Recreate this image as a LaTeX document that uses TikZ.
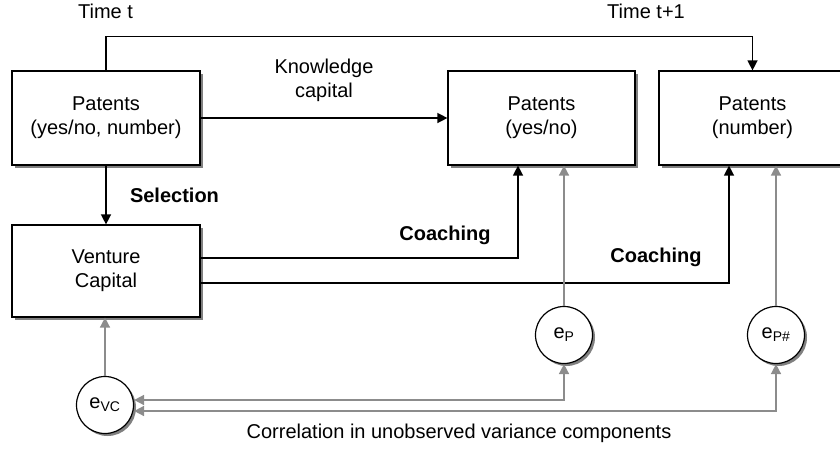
\documentclass[tikz,border=0pt]{standalone}
\usepackage{fontspec}
\setmainfont{Liberation Sans}
\usetikzlibrary{positioning, arrows.meta, shadows}
\definecolor{errgray}{RGB}{140,140,140}
\tikzset{
>={Triangle[length=10pt, width=10pt]}, % filled triangle heads
every node/.style={font=\fontsize{20}{24}\selectfont}, % Arial-like text
box/.style={draw, line width=1.2pt, fill=white, align=center, minimum width=188pt, minimum height=94pt,
    drop shadow={shadow xshift=3pt, shadow yshift=-3pt, fill=gray, opacity=1}}, % variable boxes
err/.style={draw, circle, line width=1.2pt, fill=white, minimum size=57pt, inner sep=0pt,
    drop shadow={shadow xshift=2.5pt, shadow yshift=-2.5pt, fill=gray, opacity=1}}, % error terms
link/.style={->, line width=1.4pt}, % causal paths
errlink/.style={->, line width=1.6pt, errgray}, % error paths
lbl/.style={font=\fontsize{20}{24}\selectfont\bfseries}, % path labels
}

\begin{document}
\begin{tikzpicture}[x=1pt, y=-1pt]
                \useasboundingbox (0,0) rectangle (840,450);
                \clip (0,0) rectangle (840,450);
                % time t and t+1
                \node[box] (patT) at (106,118) {Patents\\(yes/no, number)};
                \node[box, minimum width=187pt] (patYN) at (541.5,118) {Patents\\(yes/no)};
                \node[box, minimum width=187pt] (patNum) at (752.5,118) {Patents\\(number)};
                \node[box, minimum height=92pt] (vc) at (106,271) {Venture\\Capital};
                % unobserved components
                \node[err] (eVC) at (105,405) {e\textsubscript{VC}};
                \node[err] (eP) at (564,335) {e\textsubscript{P}};
                \node[err] (ePN) at (776,335) {e\textsubscript{P\#}};
                \node (timeT) at (105.5,11) {Time t};
                \node (timeT1) at (646,11) {Time t+1};
                \node[lbl] (coach1) at (445,235) {Coaching};
                \node[lbl] (coach2) at (656,257) {Coaching};
                \node (corr) at (459,433) {Correlation in unobserved variance components};
                \draw[link] (patT.north) -- ++(0,-34) -| (patNum.north);
                \draw[link] (patT) -- node[above=12pt, align=center] (know) {Knowledge\\capital} (patYN);
                \draw[link] (patT) -- node[lbl, right=20pt] (sel) {Selection} (vc);
                \draw[link] ([yshift=13pt]vc.east) -| ([xshift=-23.5pt]patYN.south);
                \draw[link] ([yshift=-12pt]vc.east) -| ([xshift=-23.5pt]patNum.south);
                \draw[errlink] (eVC) -- (eVC |- vc.south);
                \draw[errlink] (eP) -- (eP |- patYN.south);
                \draw[errlink] (ePN) -- (ePN |- patNum.south);
                \draw[errlink, <->] (eP.south) |- ([yshift=5pt]eVC.east);
                \draw[errlink, <->] (ePN.south) |- ([yshift=-6pt]eVC.east);
                \end{tikzpicture}
\end{document}
